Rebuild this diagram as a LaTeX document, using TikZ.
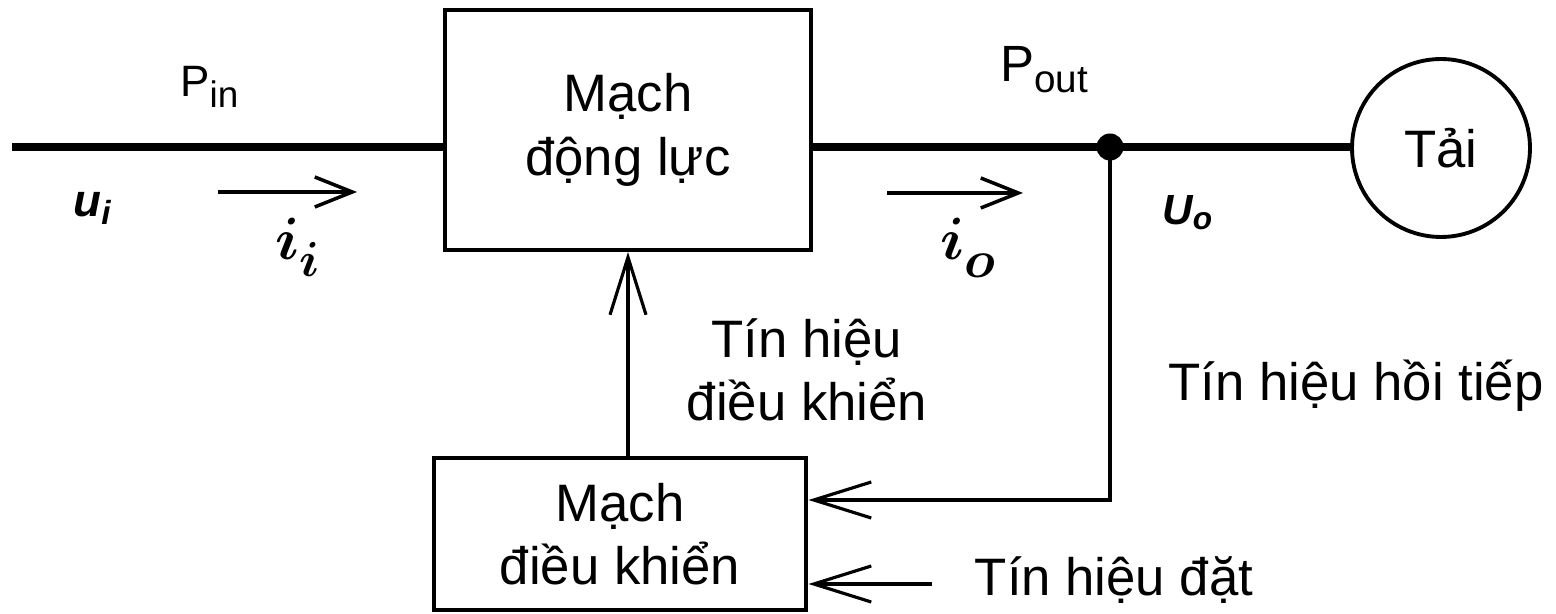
\documentclass[tikz,border=0pt]{standalone}
\usepackage{fontspec}
\usepackage{unicode-math}
\setmainfont{Liberation Sans}
\usetikzlibrary{arrows.meta,calc}

\begin{document}
\begin{tikzpicture}[x=0.02cm,y=-0.02cm,
  lbl/.style={font=\fontsize{30}{36}\selectfont, align=center, inner sep=0pt},
  blockbox/.style={draw, line width=2.3pt, inner sep=0pt, lbl},
  power/.style={line width=4pt},
  sig/.style={line width=1.8pt},
  bigtip/.style={-{Straight Barb[length=1.15cm,width=0.72cm]}},
  curarrow/.style={line width=2pt, -{Straight Barb[length=0.75cm,width=0.6cm]}},
  sym/.style={inner sep=0pt, anchor=base west},
]
\useasboundingbox (0,0) rectangle (1556,614);

% blocks
\node[blockbox, minimum width=7.34cm, minimum height=4.8cm] (pw) at (628,130) {Mạch\\động lực};
\node[blockbox, minimum width=7.46cm, minimum height=3.04cm] (ctl) at (620,534) {Mạch\\điều khiển};
\node[draw, circle, line width=2.2pt, minimum size=3.56cm, lbl] (load) at (1441,148) {Tải};
\node[circle, fill, minimum size=0.54cm, inner sep=0pt] (j) at (1110,147) {};

% power path
\coordinate (src) at (12,147);
\draw[power] (src) -- (pw.west |- src);
\draw[power] (pw.east |- j) -- (j.center) -- (load.west |- j);

% control signal
\draw[sig, bigtip] (ctl.north -| pw.south) -- (pw.south);

% feedback and set-point inputs
\coordinate (fbin) at ($(ctl.east)+(0,-34)$);
\draw[sig, bigtip] (j.center) |- (fbin);
\coordinate (sp) at (932,584);
\draw[sig, bigtip] (sp) -- (sp -| ctl.east);

% current directions
\coordinate (ia) at (218,192);
\coordinate (ib) at (357,192);
\draw[curarrow] (ia) -- (ib);
\coordinate (oa) at (887,193);
\coordinate (ob) at (1023,193);
\draw[curarrow] (oa) -- (ob);

% quantities
\node[sym, font=\fontsize{25}{28}\selectfont] (pin) at (180,97)
  {P\raisebox{-5.7pt}{\fontsize{21}{24}\selectfont in}};
\node[sym, font=\fontsize{29}{32}\selectfont] (pout) at (1000,82)
  {P\raisebox{-5.7pt}{\fontsize{22}{24}\selectfont out}};
\node[sym, font=\fontsize{26}{30}\selectfont\bfseries\itshape] (ui) at (73,217)
  {u\raisebox{-4.5pt}{\fontsize{19}{22}\selectfont i}};
\node[sym, font=\fontsize{24}{28}\selectfont\bfseries\itshape] (uo) at (1162,225)
  {U\raisebox{-2.8pt}{\fontsize{18}{20}\selectfont o}};
\node[sym, font=\fontsize{34}{38}\selectfont] (ii) at (275,260)
  {$\symbfit{i}$\raisebox{-9.6pt}{\fontsize{28}{30}\selectfont$\symbfit{i}$}};
\node[sym, font=\fontsize{34}{38}\selectfont] (io) at (940,260)
  {$\symbfit{i}$\raisebox{-10pt}{\fontsize{30}{32}\selectfont$\symbfit{o}$}};

% signal names
\node[lbl] (ctrlsig) at (807,370) {Tín hiệu\\điều khiển};
\node[lbl] (fbsig) at (1356,386) {Tín hiệu hồi tiếp};
\node[lbl] (setsig) at (1114,580) {Tín hiệu đặt};
\end{tikzpicture}
\end{document}
